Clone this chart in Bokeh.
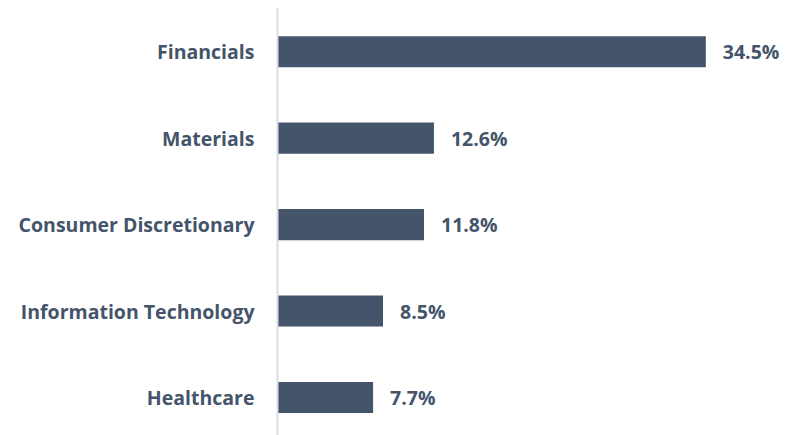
from bokeh.plotting import figure
from bokeh.models import Range1d, FixedTicker, ColumnDataSource
from bokeh.embed import file_html
from bokeh.resources import INLINE
from bokeh.core.properties import value

categories = ["Financials", "Materials", "Consumer Discretionary",
              "Information Technology", "Healthcare"]
weights = [34.5, 12.6, 11.8, 8.5, 7.7]
labels = ["34.5%", "12.6%", "11.8%", "8.5%", "7.7%"]

pos = list(range(len(categories)))
src = ColumnDataSource(dict(y=pos, w=weights, lab=labels))

COLOR = "#44546A"
FONT = "Open Sans"

p = figure(width=786, height=435, output_backend="svg", toolbar_location=None,
           x_range=Range1d(0, 41.0), y_range=Range1d(4.44, -0.5),
           min_border_left=277, min_border_right=0, min_border_top=8,
           min_border_bottom=0, outline_line_color=None)

p.hbar(y="y", right="w", left=0, height=0.36, source=src,
       fill_color=COLOR, line_color=None)

p.text(x="w", y="y", text="lab", source=src, x_offset=17,
       text_align="left", text_baseline="middle",
       text_font=value(FONT), text_font_style="bold",
       text_font_size="19.5px", text_color=COLOR)

p.xaxis.visible = False
p.xgrid.visible = False
p.ygrid.visible = False

ya = p.yaxis[0]
ya.ticker = FixedTicker(ticks=pos)
ya.major_label_overrides = {i: c for i, c in enumerate(categories)}
ya.major_tick_line_color = None
ya.minor_tick_line_color = None
ya.axis_line_color = "#D9DDE3"
ya.axis_line_width = 2
ya.major_label_standoff = 17
ya.major_label_text_font = FONT
ya.major_label_text_font_style = "bold"
ya.major_label_text_font_size = "19.5px"
ya.major_label_text_color = COLOR

open("out.html", "w").write(file_html(p, INLINE))
